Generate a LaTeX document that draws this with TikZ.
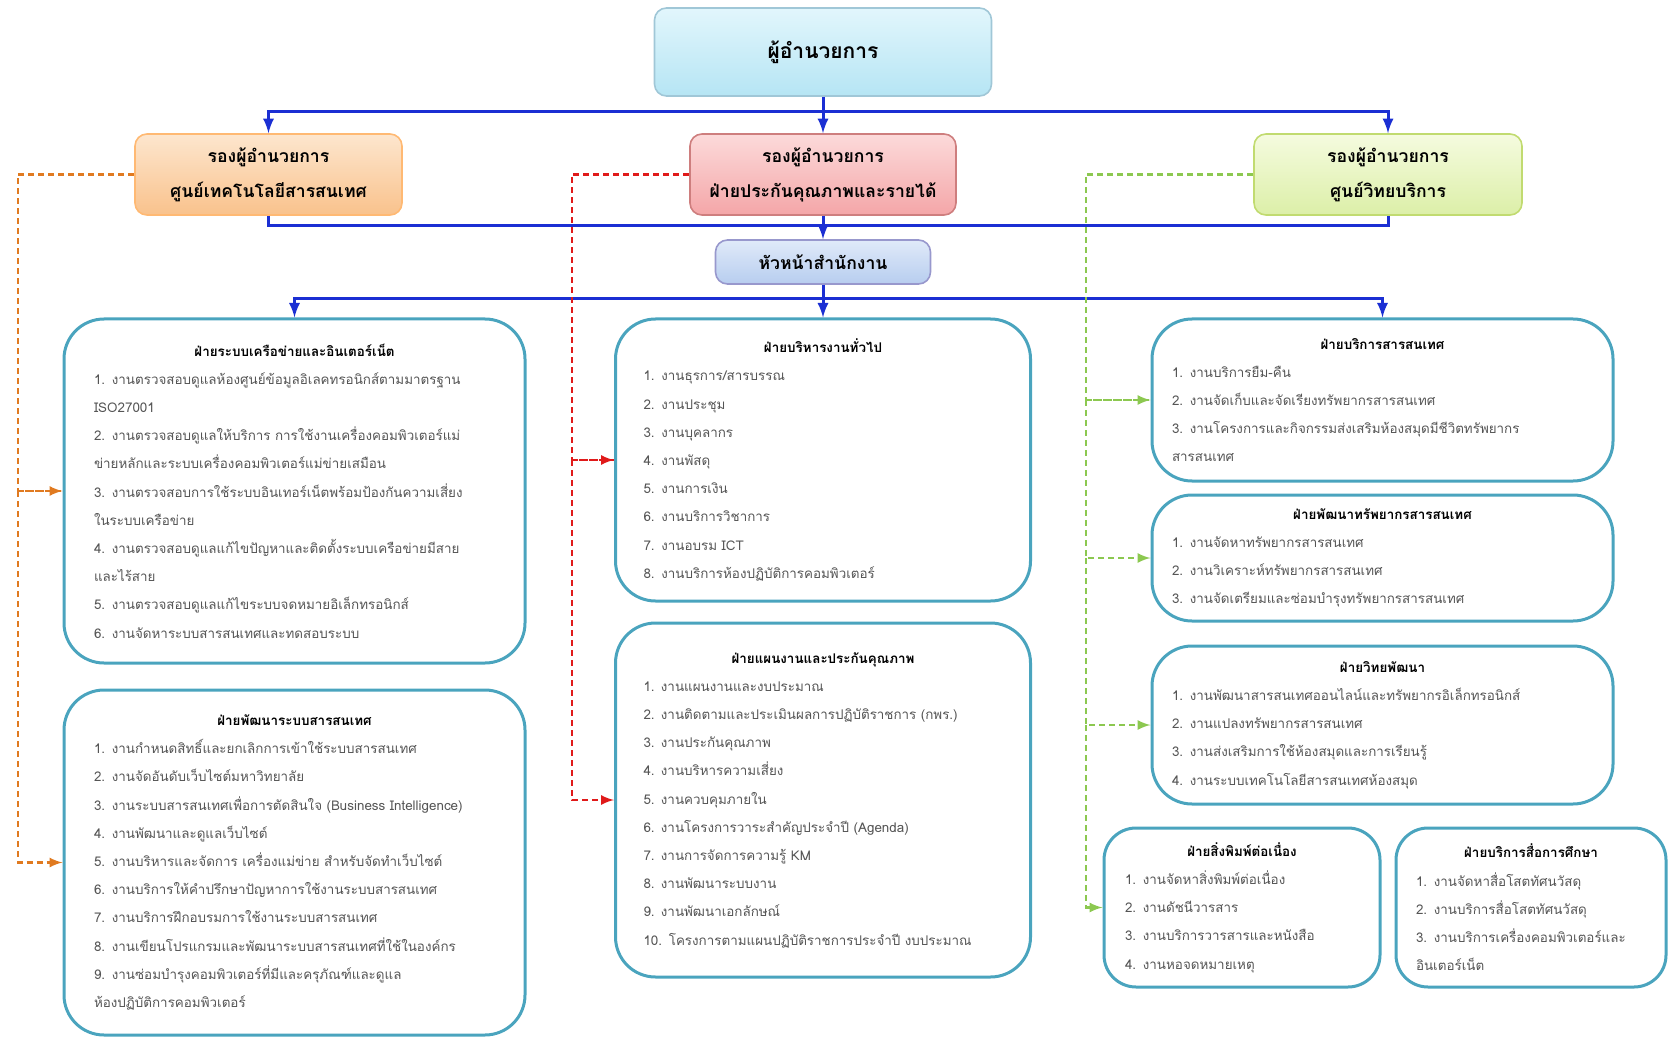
\documentclass[tikz,border=0pt]{standalone}
\usepackage{fontspec}
\setmainfont[Script=Thai]{Loma}
\usepackage{tikz}

\definecolor{busblue}{HTML}{1B2FD3}
\definecolor{unitline}{HTML}{4AA4BE}
\definecolor{itemgray}{HTML}{555555}
\definecolor{dashorange}{HTML}{E07A20}
\definecolor{dashred}{HTML}{E01A1A}
\definecolor{dashgreen}{HTML}{8CC850}
\definecolor{dirtop}{HTML}{E2F6FC}
\definecolor{dirbot}{HTML}{B6E5F4}
\definecolor{ittop}{HTML}{FDE6CE}
\definecolor{itbot}{HTML}{F9C28C}
\definecolor{qatop}{HTML}{FCDADA}
\definecolor{qabot}{HTML}{F4A6A8}
\definecolor{libtop}{HTML}{F5FBDF}
\definecolor{libbot}{HTML}{DCEFA8}
\definecolor{headtop}{HTML}{E0EAF9}
\definecolor{headbot}{HTML}{B7CDEF}

\newcommand\hdr[1]{\makebox[\hsize][c]{\color{black}\bfseries #1}}

\tikzset{
  chief/.style={draw, line width=0.8pt, rounded corners=6pt, align=center, inner sep=0pt,
    font=\bfseries\fontsize{8.8}{17.5}\selectfont},
  dirbox/.style={chief, draw=cyan!45!gray!60, top color=dirtop, bottom color=dirbot},
  itbox/.style={chief, draw=orange!55, top color=ittop, bottom color=itbot},
  qabox/.style={chief, draw=red!45!gray!70, top color=qatop, bottom color=qabot},
  libbox/.style={chief, draw=lime!60!gray!70, top color=libtop, bottom color=libbot},
  headbox/.style={chief, draw=blue!35!gray!60, top color=headtop, bottom color=headbot},
  unitbox/.style={draw=unitline, line width=1.5pt, rounded corners=20pt, fill=white,
    inner sep=0pt, align=left, text=itemgray, font=\fontsize{6.7}{14.1}\selectfont},
  busline/.style={draw=busblue, line width=1.5pt},
  busarrow/.style={busline, -latex},
  odash/.style={draw=dashorange, line width=1.2pt, dash pattern=on 3pt off 2pt},
  rdash/.style={draw=dashred, line width=1.2pt, dash pattern=on 3pt off 2pt},
  gdash/.style={draw=dashgreen, line width=1.2pt, dash pattern=on 3pt off 2pt}
}

\begin{document}
\begin{tikzpicture}[x=0.5pt,y=-0.5pt]
  \useasboundingbox (0,0) rectangle (1669,1037);

  % top levels
  \node[dirbox, minimum width=168.5pt, minimum height=44pt, font=\bfseries\fontsize{10.5}{13}\selectfont] (dir) at (823,52) {ผู้อำนวยการ};
  \node[itbox, minimum width=133.5pt, minimum height=40.5pt] (it) at (268.5,174.5) {รองผู้อำนวยการ\\ศูนย์เทคโนโลยีสารสนเทศ};
  \node[qabox, minimum width=133pt, minimum height=40.5pt] (qa) at (823,174.5) {รองผู้อำนวยการ\\ฝ่ายประกันคุณภาพและรายได้};
  \node[libbox, minimum width=134pt, minimum height=40.5pt] (lib) at (1388,174.5) {รองผู้อำนวยการ\\ศูนย์วิทยบริการ};
  \node[headbox, minimum width=107.5pt, minimum height=22pt] (head) at (823,262) {หัวหน้าสำนักงาน};

  % units
  \node[unitbox, minimum width=230.5pt, minimum height=172pt, text width=200.5pt] (net) at (294.5,491) {%
    \hdr{ฝ่ายระบบเครือข่ายและอินเตอร์เน็ต}\\
    1. งานตรวจสอบดูแลห้องศูนย์ข้อมูลอิเลคทรอนิกส์ตามมาตรฐาน\\
    ISO27001\\
    2. งานตรวจสอบดูแลให้บริการ การใช้งานเครื่องคอมพิวเตอร์แม่\\
    ข่ายหลักและระบบเครื่องคอมพิวเตอร์แม่ข่ายเสมือน\\
    3. งานตรวจสอบการใช้ระบบอินเทอร์เน็ตพร้อมป้องกันความเสี่ยง\\
    ในระบบเครือข่าย\\
    4. งานตรวจสอบดูแลแก้ไขปัญหาและติดตั้งระบบเครือข่ายมีสาย\\
    และไร้สาย\\
    5. งานตรวจสอบดูแลแก้ไขระบบจดหมายอิเล็กทรอนิกส์\\
    6. งานจัดหาระบบสารสนเทศและทดสอบระบบ};
  \node[unitbox, minimum width=230.5pt, minimum height=172.5pt, text width=200.5pt] (isdev) at (294.5,862.5) {%
    \hdr{ฝ่ายพัฒนาระบบสารสนเทศ}\\
    1. งานกำหนดสิทธิ์และยกเลิกการเข้าใช้ระบบสารสนเทศ\\
    2. งานจัดอันดับเว็บไซต์มหาวิทยาลัย\\
    3. งานระบบสารสนเทศเพื่อการตัดสินใจ (Business Intelligence)\\
    4. งานพัฒนาและดูแลเว็บไซต์\\
    5. งานบริหารและจัดการ เครื่องแม่ข่าย สำหรับจัดทำเว็บไซต์\\
    6. งานบริการให้คำปรึกษาปัญหาการใช้งานระบบสารสนเทศ\\
    7. งานบริการฝึกอบรมการใช้งานระบบสารสนเทศ\\
    8. งานเขียนโปรแกรมและพัฒนาระบบสารสนเทศที่ใช้ในองค์กร\\
    9. งานซ่อมบำรุงคอมพิวเตอร์ที่มีและครุภัณฑ์และดูแล\\
    ห้องปฏิบัติการคอมพิวเตอร์};
  \node[unitbox, minimum width=207.5pt, minimum height=141pt, text width=179.5pt] (admin) at (823,460) {%
    \hdr{ฝ่ายบริหารงานทั่วไป}\\
    1. งานธุรการ/สารบรรณ\\
    2. งานประชุม\\
    3. งานบุคลากร\\
    4. งานพัสดุ\\
    5. งานการเงิน\\
    6. งานบริการวิชาการ\\
    7. งานอบรม ICT\\
    8. งานบริการห้องปฏิบัติการคอมพิวเตอร์};
  \node[unitbox, minimum width=207.5pt, minimum height=177pt, text width=179.5pt] (plan) at (823,800) {%
    \hdr{ฝ่ายแผนงานและประกันคุณภาพ}\\
    \makebox[1.3em][l]{1.}งานแผนงานและงบประมาณ\\
    \makebox[1.3em][l]{2.}งานติดตามและประเมินผลการปฏิบัติราชการ (กพร.)\\
    \makebox[1.3em][l]{3.}งานประกันคุณภาพ\\
    \makebox[1.3em][l]{4.}งานบริหารความเสี่ยง\\
    \makebox[1.3em][l]{5.}งานควบคุมภายใน\\
    \makebox[1.3em][l]{6.}งานโครงการวาระสำคัญประจำปี (Agenda)\\
    \makebox[1.3em][l]{7.}งานการจัดการความรู้ KM\\
    \makebox[1.3em][l]{8.}งานพัฒนาระบบงาน\\
    \makebox[1.3em][l]{9.}งานพัฒนาเอกลักษณ์\\
    10. โครงการตามแผนปฏิบัติราชการประจำปี งบประมาณ};
  \node[unitbox, minimum width=230.5pt, minimum height=81pt, text width=210.5pt] (infosv) at (1382.5,400) {%
    \hdr{ฝ่ายบริการสารสนเทศ}\\
    1. งานบริการยืม-คืน\\
    2. งานจัดเก็บและจัดเรียงทรัพยากรสารสนเทศ\\
    3. งานโครงการและกิจกรรมส่งเสริมห้องสมุดมีชีวิตทรัพยากร\\
    สารสนเทศ};
  \node[unitbox, minimum width=230.5pt, minimum height=63pt, text width=210.5pt] (resdev) at (1382.5,558) {%
    \hdr{ฝ่ายพัฒนาทรัพยากรสารสนเทศ}\\
    1. งานจัดหาทรัพยากรสารสนเทศ\\
    2. งานวิเคราะห์ทรัพยากรสารสนเทศ\\
    3. งานจัดเตรียมและซ่อมบำรุงทรัพยากรสารสนเทศ};
  \node[unitbox, minimum width=230.5pt, minimum height=79pt, text width=210.5pt] (vitdev) at (1382.5,725) {%
    \hdr{ฝ่ายวิทยพัฒนา}\\
    1. งานพัฒนาสารสนเทศออนไลน์และทรัพยากรอิเล็กทรอนิกส์\\
    2. งานแปลงทรัพยากรสารสนเทศ\\
    3. งานส่งเสริมการใช้ห้องสมุดและการเรียนรู้\\
    4. งานระบบเทคโนโลยีสารสนเทศห้องสมุด};
  \node[unitbox, rounded corners=16pt, minimum width=138pt, minimum height=79.5pt, text width=117pt] (serial) at (1242,907.5) {%
    \hdr{ฝ่ายสิ่งพิมพ์ต่อเนื่อง}\\
    1. งานจัดหาสิ่งพิมพ์ต่อเนื่อง\\
    2. งานดัชนีวารสาร\\
    3. งานบริการวารสารและหนังสือ\\
    4. งานหอจดหมายเหตุ};
  \node[unitbox, rounded corners=16pt, minimum width=135pt, minimum height=79.5pt, text width=115pt] (media) at (1531,907.5) {%
    \hdr{ฝ่ายบริการสื่อการศึกษา}\\
    1. งานจัดหาสื่อโสตทัศนวัสดุ\\
    2. งานบริการสื่อโสตทัศนวัสดุ\\
    3. งานบริการเครื่องคอมพิวเตอร์และ\\
    อินเตอร์เน็ต};

  % blue chain of command
  \coordinate (bus1) at (823,112);
  \coordinate (bus2) at (823,226);
  \coordinate (bus3) at (823,299);
  \draw[busarrow] (dir.south) -- (qa.north);
  \draw[busarrow] (bus1) -| (it.north);
  \draw[busarrow] (bus1) -| (lib.north);
  \draw[busline] (it.south) |- (bus2) -| (lib.south);
  \draw[busline] (qa.south) -- (bus2);
  \draw[busarrow] (bus2) -- (head.north);
  \draw[busline] (head.south) -- (bus3);
  \draw[busarrow] (bus3) -| (net.north);
  \draw[busarrow] (bus3) -- (admin.north);
  \draw[busarrow] (bus3) -| (infosv.north);

  % dashed lines of the deputies
  \coordinate (otrunk) at (18,174.5);
  \coordinate (rtrunk) at (572,174.5);
  \coordinate (gtrunk) at (1086,174.5);
  \draw[odash] (it.west) -- (otrunk) |- (net.west);
  \draw[odash,-latex] (otrunk |- net.west) -- (net.west);
  \draw[odash,-latex] (otrunk |- net.west) |- (isdev.west);
  \draw[rdash] (qa.west) -- (rtrunk) |- (admin.west);
  \draw[rdash,-latex] (rtrunk |- admin.west) -- (admin.west);
  \draw[rdash,-latex] (rtrunk |- admin.west) |- (plan.west);
  \draw[gdash] (lib.west) -- (gtrunk) |- (infosv.west);
  \draw[gdash,-latex] (gtrunk |- infosv.west) -- (infosv.west);
  \draw[gdash,-latex] (gtrunk |- infosv.west) |- (resdev.west);
  \draw[gdash,-latex] (gtrunk |- resdev.west) |- (vitdev.west);
  \draw[gdash,-latex] (gtrunk |- vitdev.west) |- (serial.west);
\end{tikzpicture}
\end{document}
